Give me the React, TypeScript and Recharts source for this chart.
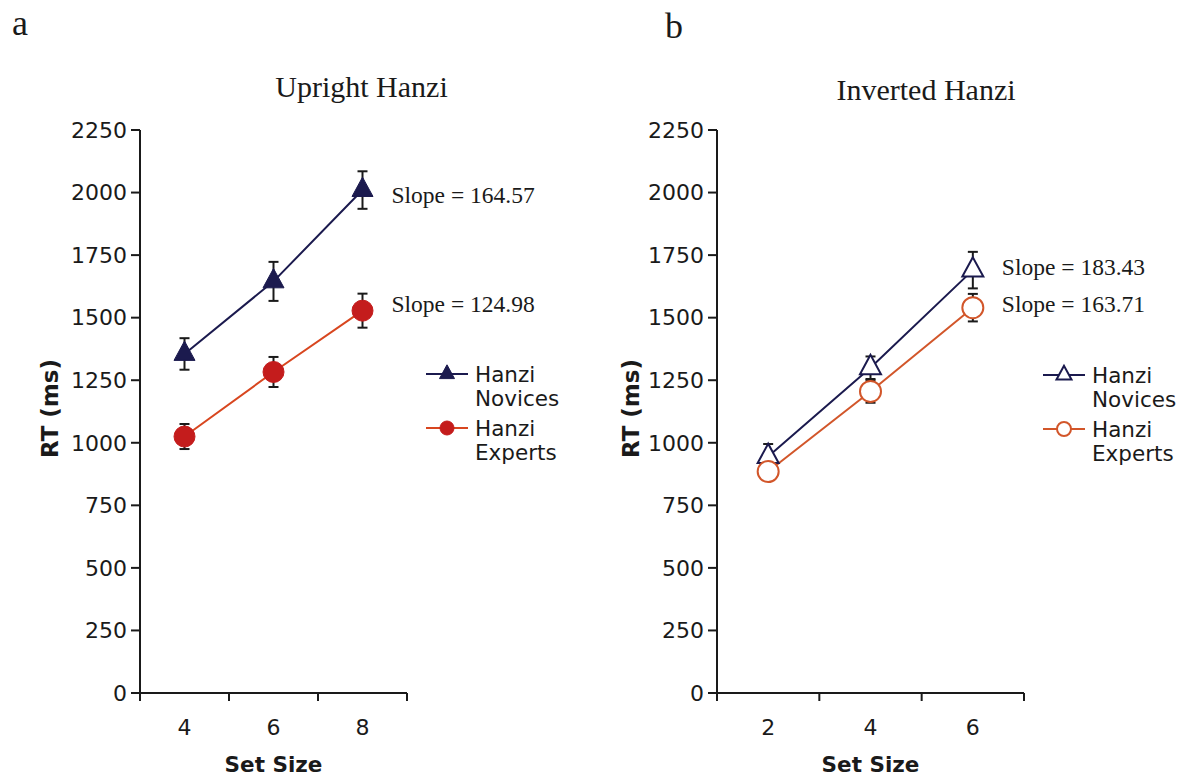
import React from 'react';
import { LineChart, Line, XAxis, YAxis, ErrorBar, Legend, LabelList } from 'recharts';

// ---------- data ----------
const uprightSetSizes = ['4', '6', '8'];
const uprightNovices = [1355, 1645, 2010];
const uprightNovicesErr = [63, 78, 75];
const uprightExperts = [1025, 1283, 1528];
const uprightExpertsErr = [50, 60, 68];
const uprightSlopes = ['164.57', '124.98'];

const invertedSetSizes = ['2', '4', '6'];
const invertedNovices = [945, 1300, 1690];
const invertedNovicesErr = [50, 45, 73];
const invertedExperts = [885, 1205, 1540];
const invertedExpertsErr = [30, 45, 55];
const invertedSlopes = ['183.43', '163.71'];

const rtTicks = [0, 250, 500, 750, 1000, 1250, 1500, 1750, 2000, 2250];
const legendLines = [
  ['Hanzi', 'Novices'],
  ['Hanzi', 'Experts'],
];

// ---------- style ----------
const NAVY = '#1b1a4e';
const RED_FILL = '#c41c1c';
const RED_LINE = '#d8461f';
const ORANGE = '#d2562a';
const INK = '#1a1a1a';
const SANS = 'DejaVu Sans, Verdana, sans-serif';
const SERIF = 'Liberation Serif, Times New Roman, serif';
const X_TICK = 8;
const TICK_FONT = 22;

const build = (sizes: string[], nov: number[], novErr: number[], exp: number[], expErr: number[]) =>
  sizes.map((s, i) => ({ size: s, nov: nov[i], novErr: novErr[i], exp: exp[i], expErr: expErr[i] }));

const uprightData = build(uprightSetSizes, uprightNovices, uprightNovicesErr, uprightExperts, uprightExpertsErr);
const invertedData = build(invertedSetSizes, invertedNovices, invertedNovicesErr, invertedExperts, invertedExpertsErr);

type MarkerKind = 'triFilled' | 'triOpen' | 'circFilled' | 'circOpen';

const Marker = ({ kind, cx, cy, size, color }: { kind: MarkerKind; cx: number; cy: number; size: number; color: string }) => {
  if (kind === 'triFilled' || kind === 'triOpen') {
    const w = size;
    const h = size * 0.92;
    const pts = `${cx},${cy - (h * 2) / 3} ${cx - w / 2},${cy + h / 3} ${cx + w / 2},${cy + h / 3}`;
    return kind === 'triFilled' ? (
      <polygon points={pts} fill={color} stroke={color} strokeWidth={1} />
    ) : (
      <polygon points={pts} fill="#fff" stroke={color} strokeWidth={2} strokeLinejoin="miter" />
    );
  }
  return kind === 'circFilled' ? (
    <circle cx={cx} cy={cy} r={size / 2} fill={color} stroke={color} strokeWidth={1} />
  ) : (
    <circle cx={cx} cy={cy} r={size / 2} fill="#fff" stroke={color} strokeWidth={2} />
  );
};

const makeDot = (kind: MarkerKind, color: string, size: number) => (p: any) => {
  if (p.cx == null || p.cy == null) return <g key={`e-${p.index}`} />;
  return (
    <g key={`d-${kind}-${p.index}`}>
      <Marker kind={kind} cx={p.cx} cy={p.cy} size={size} color={color} />
    </g>
  );
};

const SetSizeTick = (props: any) => {
  const { x, y, payload, index, visibleTicksCount } = props;
  const off = payload && typeof payload.offset === 'number' ? payload.offset : 0;
  const axisY = y - X_TICK;
  return (
    <g>
      <line x1={x - off} x2={x - off} y1={axisY} y2={axisY + X_TICK} stroke={INK} strokeWidth={2} />
      {index === visibleTicksCount - 1 && (
        <line x1={x + off} x2={x + off} y1={axisY} y2={axisY + X_TICK} stroke={INK} strokeWidth={2} />
      )}
      <text x={x} y={axisY + 42} textAnchor="middle" fontSize={TICK_FONT} fontFamily={SANS} fill={INK}>
        {payload.value}
      </text>
    </g>
  );
};

const YTitle = (props: any) => {
  const vb = props.viewBox || { x: 0, y: 0, width: 0, height: 0 };
  const cx = vb.x + props.xPos;
  const cy = vb.y + vb.height / 2 - 3;
  return (
    <text
      x={cx}
      y={cy}
      transform={`rotate(-90 ${cx} ${cy})`}
      textAnchor="middle"
      dominantBaseline="central"
      fontSize={23}
      fontWeight="bold"
      fontFamily={SANS}
      fill={INK}
    >
      RT (ms)
    </text>
  );
};

const XTitle = (props: any) => {
  const vb = props.viewBox || { x: 0, y: 0, width: 0, height: 0 };
  return (
    <text
      x={vb.x + vb.width / 2}
      y={vb.y + 79}
      textAnchor="middle"
      fontSize={21.5}
      fontWeight="bold"
      fontFamily={SANS}
      fill={INK}
    >
      Set Size
    </text>
  );
};

const makeSlopeLabel = (text: string, last: number, dx: number, dy: number) => (p: any) => {
  if (p.index !== last) return null;
  const x = (p.viewBox && p.viewBox.x) ?? p.x;
  const y = (p.viewBox && p.viewBox.y) ?? p.y;
  return (
    <text key="slope" x={x + dx} y={y + dy} fontSize={23.5} fontFamily={SERIF} fill={INK}>
      Slope = {text}
    </text>
  );
};

const LegendBox = ({ kinds, colors, lineColors }: { kinds: MarkerKind[]; colors: string[]; lineColors: string[] }) => (
  <svg width={150} height={112} style={{ display: 'block', overflow: 'visible' }}>
    {legendLines.map((lines, i) => {
      const my = 14 + i * 54;
      return (
        <g key={i}>
          <line x1={0} x2={42} y1={my} y2={my} stroke={lineColors[i]} strokeWidth={2} />
          <Marker kind={kinds[i]} cx={21} cy={my} size={kinds[i].startsWith('tri') ? 15 : 14} color={colors[i]} />
          <text x={49} y={my + 8} fontSize={21.5} fontFamily={SANS} fill={INK}>
            {lines[0]}
          </text>
          <text x={49} y={my + 32} fontSize={21.5} fontFamily={SANS} fill={INK}>
            {lines[1]}
          </text>
        </g>
      );
    })}
  </svg>
);

type PanelProps = {
  data: any[];
  width: number;
  yAxisWidth: number;
  rightMargin: number;
  yTitleX: number;
  kinds: MarkerKind[];
  colors: string[];
  lineColors: string[];
  slopes: string[];
  slopeDy: number[];
  legendPos: { left: number; top: number };
};

const Panel = (p: PanelProps) => {
  const last = p.data.length - 1;
  return (
    <LineChart
      width={p.width}
      height={776}
      data={p.data}
      margin={{ top: 130, right: p.rightMargin, bottom: 0, left: 0 }}
      style={{ fontFamily: SANS }}
    >
      <XAxis
        dataKey="size"
        type="category"
        scale="band"
        height={83}
        interval={0}
        tickLine={false}
        tickSize={X_TICK}
        tickMargin={0}
        axisLine={{ stroke: INK, strokeWidth: 2 }}
        tick={<SetSizeTick />}
        label={<XTitle />}
      />
      <YAxis
        type="number"
        domain={[0, 2250]}
        ticks={rtTicks}
        interval={0}
        width={p.yAxisWidth}
        tickSize={9}
        tickMargin={4}
        axisLine={{ stroke: INK, strokeWidth: 2 }}
        tickLine={{ stroke: INK, strokeWidth: 2 }}
        tick={{ fontSize: TICK_FONT, fill: INK, fontFamily: SANS }}
        label={<YTitle xPos={p.yTitleX} />}
      />
      <Legend
        layout="vertical"
        align="center"
        verticalAlign="middle"
        wrapperStyle={{ left: p.legendPos.left, top: p.legendPos.top }}
        content={() => <LegendBox kinds={p.kinds} colors={p.colors} lineColors={p.lineColors} />}
      />
      <Line
        dataKey="nov"
        name="Hanzi Novices"
        stroke={p.lineColors[0]}
        strokeWidth={2}
        isAnimationActive={false}
        dot={makeDot(p.kinds[0], p.colors[0], 21)}
        activeDot={false}
      >
        <ErrorBar dataKey="novErr" direction="y" width={5} stroke={INK} strokeWidth={2} isAnimationActive={false} />
        <LabelList dataKey="nov" content={makeSlopeLabel(p.slopes[0], last, 29, p.slopeDy[0])} />
      </Line>
      <Line
        dataKey="exp"
        name="Hanzi Experts"
        stroke={p.lineColors[1]}
        strokeWidth={2}
        isAnimationActive={false}
        dot={makeDot(p.kinds[1], p.colors[1], 21)}
        activeDot={false}
      >
        <ErrorBar dataKey="expErr" direction="y" width={5} stroke={INK} strokeWidth={2} isAnimationActive={false} />
        <LabelList dataKey="exp" content={makeSlopeLabel(p.slopes[1], last, 29, p.slopeDy[1])} />
      </Line>
    </LineChart>
  );
};

export default function App() {
  return (
    <div style={{ position: 'absolute', left: 0, top: 0, width: 1182, height: 776, background: '#fff', overflow: 'hidden' }}>
      <svg width={1182} height={776} style={{ position: 'absolute', left: 0, top: 0 }}>
        <text x={12} y={35} fontSize={36} fontFamily={SERIF} fill={INK}>a</text>
        <text x={665} y={38} fontSize={36} fontFamily={SERIF} fill={INK}>b</text>
        <text x={361.5} y={97} textAnchor="middle" fontSize={30} fontFamily={SERIF} fill={INK}>Upright Hanzi</text>
        <text x={926} y={100} textAnchor="middle" fontSize={30} fontFamily={SERIF} fill={INK}>Inverted Hanzi</text>
      </svg>
      <div style={{ position: 'absolute', left: 0, top: 0 }}>
        <Panel
          data={uprightData}
          width={590}
          yAxisWidth={140}
          rightMargin={183}
          yTitleX={50}
          kinds={['triFilled', 'circFilled']}
          colors={[NAVY, RED_FILL]}
          lineColors={[NAVY, RED_LINE]}
          slopes={uprightSlopes}
          slopeDy={[13, 1]}
          legendPos={{ left: 426, top: 360 }}
        />
      </div>
      <div style={{ position: 'absolute', left: 590, top: 0 }}>
        <Panel
          data={invertedData}
          width={592}
          yAxisWidth={127}
          rightMargin={158}
          yTitleX={41}
          kinds={['triOpen', 'circOpen']}
          colors={[NAVY, ORANGE]}
          lineColors={[NAVY, ORANGE]}
          slopes={invertedSlopes}
          slopeDy={[5, 4]}
          legendPos={{ left: 453, top: 361 }}
        />
      </div>
    </div>
  );
}
